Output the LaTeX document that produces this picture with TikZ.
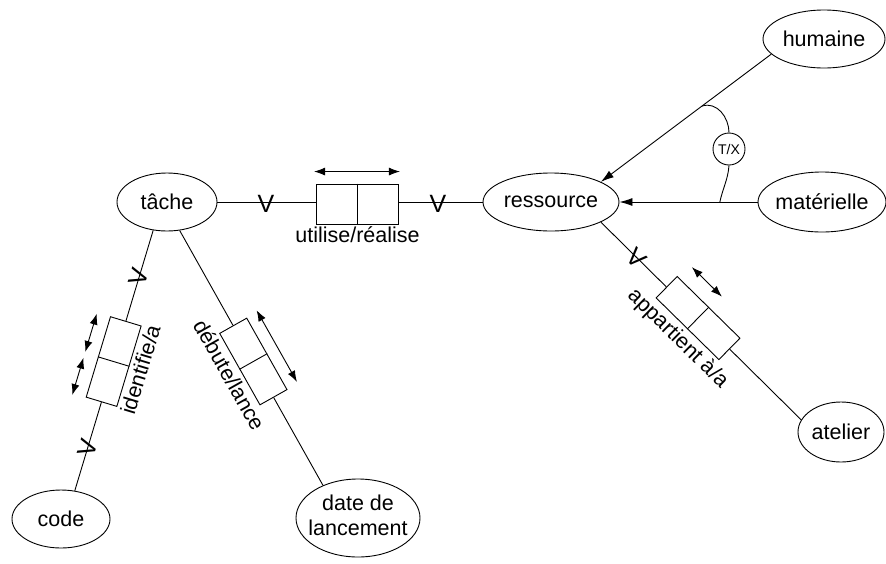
\documentclass[tikz,border=0pt]{standalone}
\usepackage{fontspec}
\setmainfont{Liberation Sans}
\usetikzlibrary{shapes.geometric,arrows.meta,calc}
\begin{document}
\begin{tikzpicture}[x=1pt,y=-1pt,
  line width=0.9pt,
  font=\fontsize{21.5}{25}\selectfont,
  ent/.style={ellipse, draw, inner sep=0pt},
  relbox/.style={rectangle, draw, inner sep=0pt, minimum width=84pt, minimum height=31pt},
  rlabel/.style={anchor=north, inner sep=3pt},
  vmark/.style={inner sep=0pt, font=\fontsize{25}{25}\selectfont},
  card/.style={{Latex[length=11pt,width=8pt]}-{Latex[length=11pt,width=8pt]}},
  isa/.style={-{Latex[length=13pt,width=8pt]}},
]
\useasboundingbox (0,0) rectangle (886,563);

% entities
\node[ent, minimum width=100pt, minimum height=58pt] (tache) at (167,202) {\makebox[0pt]{tâche}};
\node[ent, minimum width=136pt, minimum height=58pt] (ressource) at (551,202) {\makebox[0pt]{ressource}};
\node[ent, minimum width=122pt, minimum height=58pt] (humaine) at (824,39) {\makebox[0pt]{humaine}};
\node[ent, minimum width=128pt, minimum height=60pt] (materielle) at (822,202) {\makebox[0pt]{matérielle}};
\node[ent, minimum width=86pt, minimum height=60pt] (atelier) at (841,432) {\makebox[0pt]{atelier}};
\node[ent, minimum width=98pt, minimum height=58pt] (code) at (61,519) {\makebox[0pt]{code}};
\node[ent, minimum width=124pt, minimum height=78pt] (date) at (358,518)
  {\makebox[0pt]{\begin{tabular}{@{}c@{}}date de\\lancement\end{tabular}}};

% attachment points on the entity borders
\coordinate (t1) at (tache.-116);
\coordinate (c1) at (code.64);
\coordinate (t2) at (tache.-66);
\coordinate (d1) at (date.137);
\coordinate (r1) at (ressource.-22);
\coordinate (a1) at (atelier.163);
\coordinate (h1) at (humaine.196);
\coordinate (r2) at (ressource.22);

% relation boxes
\node[relbox, minimum width=82pt, minimum height=40pt] (ub) at (357.5,204) {};
\draw (ub.north) -- (ub.south);
\node[relbox, rotate=73.2, minimum height=32pt] (ib) at ($(t1)!0.504!(c1)$) {};
\draw (ib.north) -- (ib.south);
\node[relbox, rotate=-60.6, minimum width=82pt] (db) at ($(t2)!0.514!(d1)$) {};
\draw (db.north) -- (db.south);
\node[relbox, rotate=-44.5, minimum width=88pt, minimum height=30pt] (ab) at ($(r1)!0.485!(a1)$) {};
\draw (ab.north) -- (ab.south);

% connectors
\draw (tache.east) -- (tache.east -| ub.west);
\draw (ub.east |- ressource.west) -- (ressource.west);
\draw (t1) -- (ib.east);
\draw (ib.west) -- (c1);
\draw (t2) -- (db.west);
\draw (db.east) -- (d1);
\draw (r1) -- (ab.west);
\draw (ab.east) -- (a1);

% relation names
\node[rlabel, inner sep=1.5pt] (ul) at (ub.south) {utilise/réalise};
\node[rlabel, rotate=73.2] (il) at (ib.south) {identifie/a};
\node[rlabel, rotate=-60.6] (dl) at (db.south) {débute/lance};
\node[rlabel, rotate=-44.5] (al) at (ab.south) {appartient à/a};

% reading direction arrows
\draw[card] ($(ub.north west)+(-2,-12)$) -- ($(ub.north east)+(1,-12)$);
\begin{scope}[shift={(ib.center)}, rotate=73.2]
  \draw[card] (1,-30) -- (41,-30);
  \draw[card] (-44,-30) -- (-5,-30);
\end{scope}
\begin{scope}[shift={(db.center)}, rotate=-60.6]
  \draw[card] (-43,-28) -- (39,-28);
\end{scope}
\begin{scope}[shift={(ab.center)}, rotate=-44.5]
  \draw[card] (-40,-32) -- (2,-32);
\end{scope}

% cardinality marks
\node[vmark] (v1) at (266,204) {V};
\node[vmark] (v2) at (438,204) {V};
\node[vmark, rotate=-44.5] (v3) at ($(r1)!0.18!(a1)$) {V};
\node[vmark, rotate=73.2] (v4) at ($(t1)!0.18!(c1)$) {V};
\node[vmark, rotate=73.2] (v5) at ($(t1)!0.835!(c1)$) {V};

% specialisation of ressource
\draw[isa] (h1) -- (r2);
\draw[isa] (materielle.west) -- (ressource.east);
\coordinate (tx1) at ($(h1)!0.407!(r2)$);
\coordinate (tx2) at ($(materielle.west)!0.273!(ressource.east)$);
\node[circle, draw, minimum size=32pt, inner sep=0pt, font=\fontsize{14}{14}\selectfont] (tx) at (729,149) {T/X};
\draw (tx1) .. controls +(15,-5) and +(0,-15) .. (tx.north);
\draw (tx.south) .. controls +(-1,14) and +(3,-14) .. (tx2);
\end{tikzpicture}
\end{document}
